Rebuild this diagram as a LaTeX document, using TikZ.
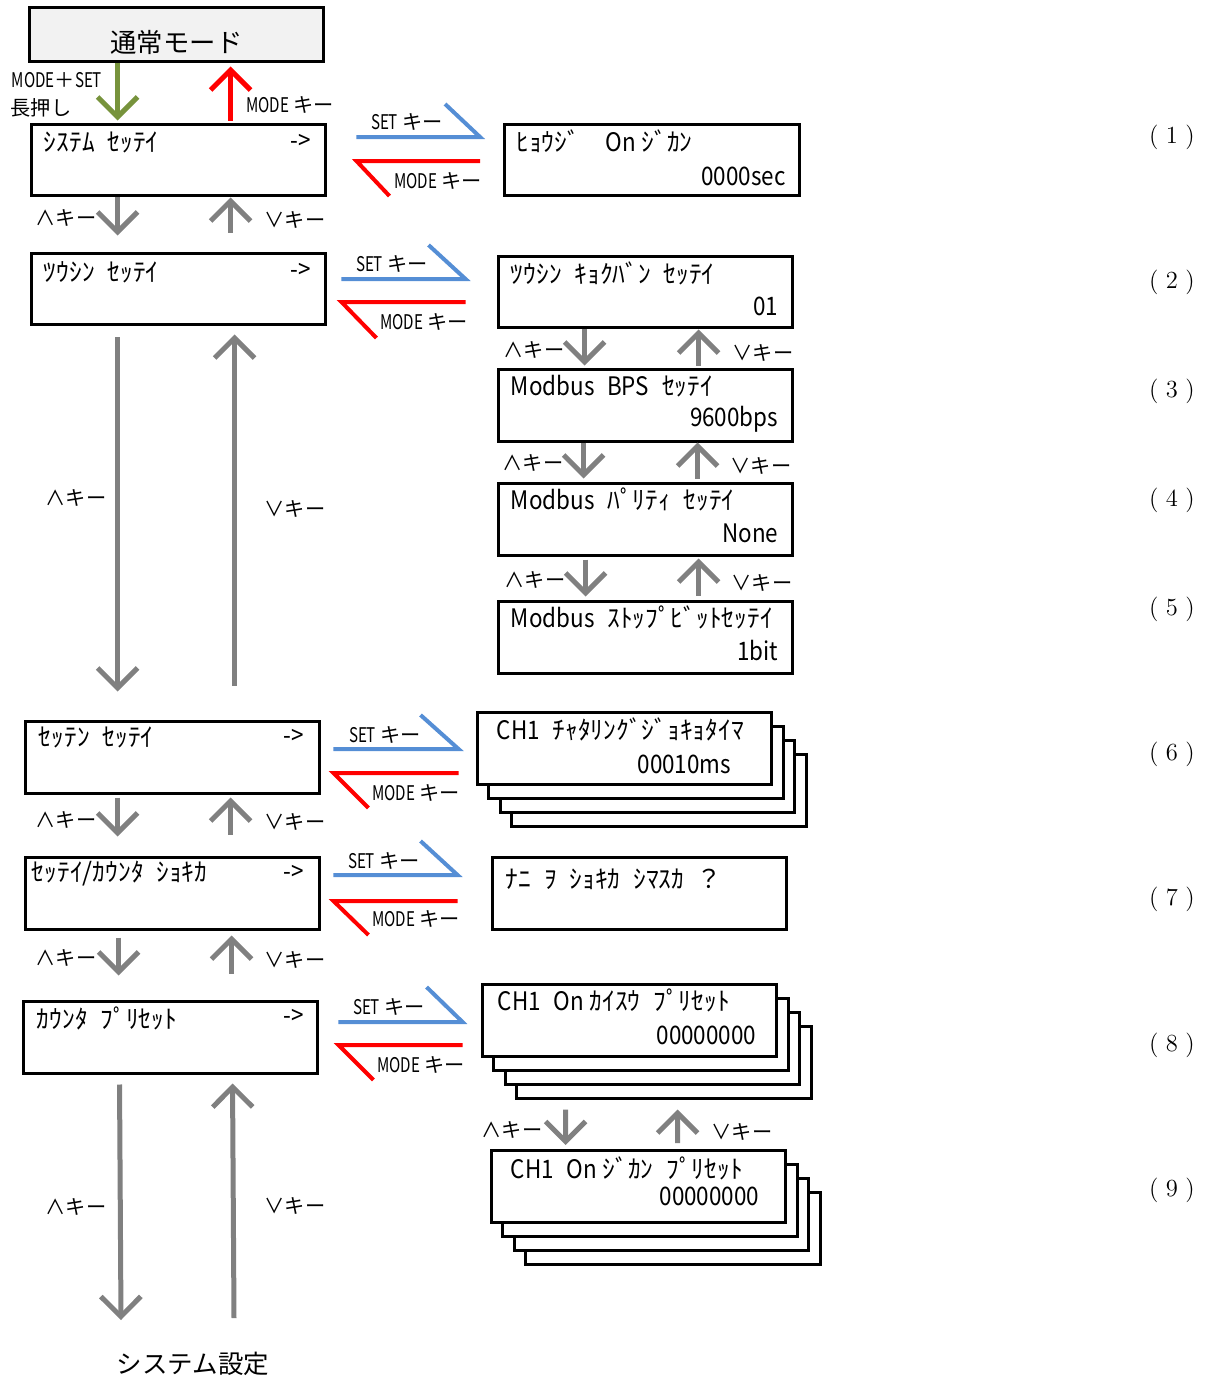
\documentclass[tikz,border=0pt]{standalone}
\usepackage{fontspec}
\usepackage{tikz}
\usetikzlibrary{arrows.meta}
\newfontfamily\jpfont{Noto Sans CJK JP}
\newfontfamily\lcdfont{Noto Sans CJK JP}
\newfontfamily\latfont[FakeStretch=0.88]{Noto Sans CJK JP}
\newfontfamily\narrowfont[FakeStretch=0.75]{Noto Sans CJK JP}
\newcommand{\nw}[1]{{\narrowfont #1}}
\newcommand{\lat}[1]{{\latfont #1}}
\newcommand{\kgap}{\hspace{0.5em}}
\definecolor{keygray}{RGB}{128,128,128}
\definecolor{setblue}{RGB}{85,142,213}
\definecolor{modered}{RGB}{255,0,0}
\definecolor{holdgreen}{RGB}{119,147,60}
\definecolor{normgray}{RGB}{242,242,242}

\begin{document}
\begin{tikzpicture}[x=0.02cm, y=-0.02cm,
    lcdbox/.style={draw, line width=0.06cm, fill=white, minimum width=5.9cm, minimum height=1.44cm, inner sep=0pt},
    lcdtxt/.style={font={\lcdfont\fontsize{14.5}{16}\selectfont}, inner sep=0pt},
    keylbl/.style={font={\jpfont\fontsize{11.5}{13}\selectfont}, inner sep=0pt},
    keyarr/.style={keygray, line width=0.1cm, -{Straight Barb[length=0.4cm,width=0.8cm]}},
    setline/.style={setblue, line width=0.08cm},
    modeline/.style={modered, line width=0.08cm},
    numlbl/.style={font=\fontsize{14}{16}\selectfont}]
    \useasboundingbox (0,0) rectangle (1207,1380);

    % Normal mode
    \node[draw, line width=0.06cm, fill=normgray, minimum width=5.9cm, minimum height=1.1cm] (norm) at (176.5,34.5) {};
    \node[font={\jpfont\fontsize{15}{17}\selectfont}] (normtxt) at ([shift={(0,8)}]norm.center) {通常モード};

    % Left column
    \node[lcdbox] (sys) at (178.5,160) {};
    \node[lcdtxt, anchor=base west] (systxt) at ([shift={(14,29)}]sys.north west) {ｼｽﾃﾑ\kgap ｾｯﾃｲ};
    \node[lcdtxt, anchor=base east] (sysgo) at ([shift={(-16,27)}]sys.north east) {\lat{->}};

    \node[lcdbox] (com) at (178.5,289) {};
    \node[lcdtxt, anchor=base west] (comtxt) at ([shift={(14,30)}]com.north west) {ﾂｳｼﾝ\kgap ｾｯﾃｲ};
    \node[lcdtxt, anchor=base east] (comgo) at ([shift={(-16,27)}]com.north east) {\lat{->}};

    \node[lcdbox] (sett) at (172.5,757) {};
    \node[lcdtxt, anchor=base west] (setttxt) at ([shift={(15,27)}]sett.north west) {ｾｯﾃﾝ\kgap ｾｯﾃｲ};
    \node[lcdtxt, anchor=base east] (settgo) at ([shift={(-17,25)}]sett.north east) {\lat{->}};

    \node[lcdbox] (init) at (172.5,893) {};
    \node[lcdtxt, anchor=base west] (inittxt) at ([shift={(8,26)}]init.north west) {ｾｯﾃｲ/ｶｳﾝﾀ\kgap ｼｮｷｶ};
    \node[lcdtxt, anchor=base east] (initgo) at ([shift={(-17,25)}]init.north east) {\lat{->}};

    \node[lcdbox] (pre) at (170.5,1037) {};
    \node[lcdtxt, anchor=base west] (pretxt) at ([shift={(15,29)}]pre.north west) {ｶｳﾝﾀ\kgap ﾌﾟﾘｾｯﾄ};
    \node[lcdtxt, anchor=base east] (prego) at ([shift={(-15,25)}]pre.north east) {\lat{->}};

    % Right column
    \node[lcdbox] (hyo) at (652,160) {};
    \node[lcdtxt, anchor=base west] (hyotxt) at ([shift={(13,29)}]hyo.north west) {ﾋｮｳｼﾞ\kgap\kgap\lat{On} ｼﾞｶﾝ};
    \node[lcdtxt, anchor=base east] (hyoval) at ([shift={(-15,63)}]hyo.north east) {\lat{0000sec}};

    \node[lcdbox] (kyo) at (645.5,292) {};
    \node[lcdtxt, anchor=base west] (kyotxt) at ([shift={(14,29)}]kyo.north west) {ﾂｳｼﾝ\kgap ｷｮｸﾊﾞﾝ\kgap ｾｯﾃｲ};
    \node[lcdtxt, anchor=base east] (kyoval) at ([shift={(-16,61)}]kyo.north east) {\lat{01}};

    \node[lcdbox] (bps) at (645.5,405) {};
    \node[lcdtxt, anchor=base west] (bpstxt) at ([shift={(14,28)}]bps.north west) {\lat{Modbus}\kgap\lat{BPS}\kgap ｾｯﾃｲ};
    \node[lcdtxt, anchor=base east] (bpsval) at ([shift={(-16,59)}]bps.north east) {\lat{9600bps}};

    \node[lcdbox] (par) at (645.5,519) {};
    \node[lcdtxt, anchor=base west] (partxt) at ([shift={(14,28)}]par.north west) {\lat{Modbus}\kgap ﾊﾟﾘﾃｨ\kgap ｾｯﾃｲ};
    \node[lcdtxt, anchor=base east] (parval) at ([shift={(-16,61)}]par.north east) {\lat{None}};

    \node[lcdbox] (stp) at (645.5,637) {};
    \node[lcdtxt, anchor=base west] (stptxt) at ([shift={(14,28)}]stp.north west) {\lat{Modbus}\kgap ｽﾄｯﾌﾟﾋﾞｯﾄｾｯﾃｲ};
    \node[lcdtxt, anchor=base east] (stpval) at ([shift={(-16,61)}]stp.north east) {\lat{1bit}};

    % Stacked channel boxes
    \coordinate (chatpos) at (624.5,748.5);
    \foreach \k in {3,2,1}
        \node[lcdbox] (chat\k) at ([shift={(\k*11.5,\k*14)}]chatpos) {};
    \node[lcdbox] (chat) at (chatpos) {};
    \node[lcdtxt, anchor=base west] (chattxt) at ([shift={(21,28)}]chat.north west) {\lat{CH1}\kgap ﾁｬﾀﾘﾝｸﾞｼﾞｮｷｮﾀｲﾏ};
    \node[lcdtxt, anchor=base east] (chatval) at ([shift={(-42,62)}]chat.north east) {\lat{00010ms}};

    \node[lcdbox] (ask) at (639.5,893) {};
    \node[lcdtxt, anchor=base west] (asktxt) at ([shift={(15,33)}]ask.north west) {ﾅﾆ\kgap ｦ\kgap ｼｮｷｶ\kgap ｼﾏｽｶ\kgap ？};

    \coordinate (cntpos) at (629.5,1020);
    \foreach \k in {3,2,1}
        \node[lcdbox] (cnt\k) at ([shift={(\k*11.5,\k*14)}]cntpos) {};
    \node[lcdbox] (cnt) at (cntpos) {};
    \node[lcdtxt, anchor=base west] (cnttxt) at ([shift={(17,28)}]cnt.north west) {\lat{CH1}\kgap\lat{On} ｶｲｽｳ\kgap ﾌﾟﾘｾｯﾄ};
    \node[lcdtxt, anchor=base east] (cntval) at ([shift={(-22,62)}]cnt.north east) {\lat{00000000}};

    \coordinate (timpos) at (638.5,1186.5);
    \foreach \k in {3,2,1}
        \node[lcdbox] (tim\k) at ([shift={(\k*11.5,\k*14)}]timpos) {};
    \node[lcdbox] (tim) at (timpos) {};
    \node[lcdtxt, anchor=base west] (timtxt) at ([shift={(21,29)}]tim.north west) {\lat{CH1}\kgap\lat{On} ｼﾞｶﾝ\kgap ﾌﾟﾘｾｯﾄ};
    \node[lcdtxt, anchor=base east] (timval) at ([shift={(-28,56)}]tim.north east) {\lat{00000000}};

    % Enter / leave system settings
    \draw[keyarr, holdgreen] ([shift={(90,0)}]norm.south west) -- ([shift={(88,-2)}]sys.north west);
    \draw[keyarr, modered] ([shift={(201,-2)}]sys.north west) -- ([shift={(203,3)}]norm.south west);
    \node[keylbl] (holdlbl) at (57,80) {\nw{MODE}＋\nw{SET}};
    \node[keylbl] (holdlbl2) at (41,108) {長押し};
    \node[keylbl] (backlbl) at (290,105) {\nw{MODE} キー};

    % SET / MODE key pairs
    \draw[setline] ([shift={(29,-23)}]sys.east) -- ([shift={(-23,-23)}]hyo.west) -- ++(-35,-33);
    \draw[modeline] ([shift={(-23,1)}]hyo.west) -- ([shift={(29,1)}]sys.east) -- ++(33,35);
    \node[keylbl] (set1) at (407,122) {\nw{SET} キー};
    \node[keylbl] (mode1) at (438,181) {\nw{MODE} キー};

    \draw[setline] ([shift={(14,-10)}]com.east) -- ([shift={(-31,-13)}]kyo.west) -- ++(-37,-34);
    \draw[modeline] ([shift={(-31,10)}]kyo.west) -- ([shift={(14,13)}]com.east) -- ++(35,36);
    \node[keylbl] (set2) at (392,264) {\nw{SET} キー};
    \node[keylbl] (mode2) at (424,322) {\nw{MODE} キー};

    \draw[setline] ([shift={(12,-8)}]sett.east) -- ([shift={(-17,0.5)}]chat.west) -- ++(-38,-34);
    \draw[modeline] ([shift={(-17,24.5)}]chat.west) -- ([shift={(12,16)}]sett.east) -- ++(35,35);
    \node[keylbl] (set6) at (385,735) {\nw{SET} キー};
    \node[keylbl] (mode6) at (416,793) {\nw{MODE} キー};

    \draw[setline] ([shift={(12,-18)}]init.east) -- ([shift={(-33,-18)}]ask.west) -- ++(-37,-34);
    \draw[modeline] ([shift={(-33,8)}]ask.west) -- ([shift={(12,8)}]init.east) -- ++(35,34);
    \node[keylbl] (set7) at (384,861) {\nw{SET} キー};
    \node[keylbl] (mode7) at (416,919) {\nw{MODE} キー};

    \draw[setline] ([shift={(19,-15)}]pre.east) -- ([shift={(-18,2)}]cnt.west) -- ++(-36,-35);
    \draw[modeline] ([shift={(-18,25)}]cnt.west) -- ([shift={(19,8)}]pre.east) -- ++(35,35);
    \node[keylbl] (set8) at (389,1007) {\nw{SET} キー};
    \node[keylbl] (mode8) at (421,1065) {\nw{MODE} キー};

    % Up / down keys, left column
    \draw[keyarr] ([shift={(88,0)}]sys.south west) -- ([shift={(88,-16)}]com.north west);
    \draw[keyarr] ([shift={(201,-19)}]com.north west) -- ([shift={(201,0)}]sys.south west);
    \node[keylbl] (up1) at (66,218) {∧キー};
    \node[keylbl] (dn1) at (295,220) {∨キー};

    \draw[keyarr] ([shift={(88,11)}]com.south west) -- ([shift={(94,-28)}]sett.north west);
    \draw[keyarr] ([shift={(211,-34)}]sett.north west) -- ([shift={(205,8)}]com.south west);
    \node[keylbl] (up2) at (76,498) {∧キー};
    \node[keylbl] (dn2) at (295,509) {∨キー};

    \draw[keyarr] ([shift={(94,3)}]sett.south west) -- ([shift={(94,-19)}]init.north west);
    \draw[keyarr] ([shift={(207,-21)}]init.north west) -- ([shift={(207,3)}]sett.south west);
    \node[keylbl] (up3) at (66,820) {∧キー};
    \node[keylbl] (dn3) at (295,822) {∨キー};

    \draw[keyarr] ([shift={(95,7)}]init.south west) -- ([shift={(97,-24)}]pre.north west);
    \draw[keyarr] ([shift={(210,-26)}]pre.north west) -- ([shift={(208,5)}]init.south west);
    \node[keylbl] (up4) at (66,958) {∧キー};
    \node[keylbl] (dn4) at (295,960) {∨キー};

    \coordinate (botdn) at (121,1320);
    \coordinate (botup) at (234,1318);
    \draw[keyarr] ([shift={(98,10)}]pre.south west) -- (botdn);
    \draw[keyarr] (botup) -- ([shift={(211,9)}]pre.south west);
    \node[keylbl] (up5) at (76,1207) {∧キー};
    \node[keylbl] (dn5) at (295,1206) {∨キー};
    \node[font={\jpfont\fontsize{14.5}{17}\selectfont}] (sysset) at (193,1364) {システム設定};

    % Up / down keys, right column
    \draw[keyarr] ([shift={(88,0)}]kyo.south west) -- ([shift={(88,-2)}]bps.north west);
    \draw[keyarr] ([shift={(202,-2)}]bps.north west) -- ([shift={(202,0)}]kyo.south west);
    \node[keylbl] (up6) at (534,350) {∧キー};
    \node[keylbl] (dn6) at (763,353) {∨キー};

    \draw[keyarr] ([shift={(87,0)}]bps.south west) -- ([shift={(87,-3)}]par.north west);
    \draw[keyarr] ([shift={(201,-3)}]par.north west) -- ([shift={(201,0)}]bps.south west);
    \node[keylbl] (up7) at (533,463) {∧キー};
    \node[keylbl] (dn7) at (761,466) {∨キー};

    \draw[keyarr] ([shift={(89,3)}]par.south west) -- ([shift={(89,-3)}]stp.north west);
    \draw[keyarr] ([shift={(202,-4)}]stp.north west) -- ([shift={(202,2)}]par.south west);
    \node[keylbl] (up8) at (535,580) {∧キー};
    \node[keylbl] (dn8) at (762,583) {∨キー};

    \draw[keyarr] ([shift={(50.5,10)}]cnt3.south west) -- ([shift={(76,-4)}]tim.north west);
    \draw[keyarr] ([shift={(188,-6)}]tim.north west) -- ([shift={(162.5,10)}]cnt3.south west);
    \node[keylbl] (up9) at (512,1130) {∧キー};
    \node[keylbl] (dn9) at (742,1132) {∨キー};

    % Item numbers
    \node[numlbl] (n1) at (1172,137) {(\hspace{0.3em}1\hspace{0.3em})};
    \node[numlbl] (n2) at (1172,282) {(\hspace{0.3em}2\hspace{0.3em})};
    \node[numlbl] (n3) at (1172,391) {(\hspace{0.3em}3\hspace{0.3em})};
    \node[numlbl] (n4) at (1172,500) {(\hspace{0.3em}4\hspace{0.3em})};
    \node[numlbl] (n5) at (1172,609) {(\hspace{0.3em}5\hspace{0.3em})};
    \node[numlbl] (n6) at (1172,754) {(\hspace{0.3em}6\hspace{0.3em})};
    \node[numlbl] (n7) at (1172,899) {(\hspace{0.3em}7\hspace{0.3em})};
    \node[numlbl] (n8) at (1172,1045) {(\hspace{0.3em}8\hspace{0.3em})};
    \node[numlbl] (n9) at (1172,1190) {(\hspace{0.3em}9\hspace{0.3em})};
\end{tikzpicture}
\end{document}
